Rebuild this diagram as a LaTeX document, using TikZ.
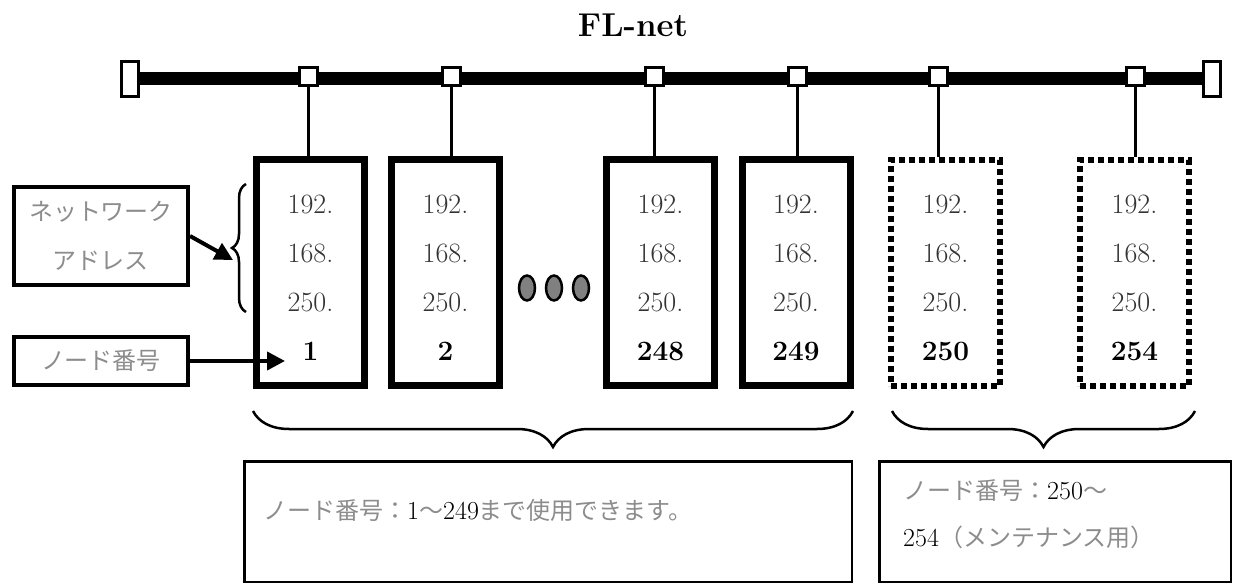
\documentclass[tikz,border=0pt]{standalone}
\usepackage{fontspec}
\newfontfamily\jp{Noto Sans CJK JP}
\usetikzlibrary{arrows.meta,decorations.pathreplacing,shapes.geometric}
\newcommand\numtxt[1]{{\rmfamily\fontsize{26}{26}\selectfont\color{black}#1}}
\begin{document}
\begin{tikzpicture}[x=1pt,y=-1pt,
 bus/.style={line width=13pt},
 term/.style={draw,fill=white,line width=3pt,minimum width=17pt,minimum height=35pt,inner sep=0pt},
 tap/.style={draw,fill=white,line width=3pt,minimum width=18pt,minimum height=18pt,inner sep=0pt},
 drop/.style={line width=3pt},
 hostbox/.style={draw,line width=7pt,minimum width=108pt,minimum height=226pt,inner sep=0pt},
 spare/.style={draw,line width=6pt,dash pattern=on 6pt off 4pt,minimum width=109pt,minimum height=226pt,inner sep=0pt},
 ip/.style={anchor=base,font=\fontsize{28}{30}\selectfont,text=black!80,inner sep=0pt},
 nid/.style={anchor=base,font=\fontsize{28}{30}\selectfont\bfseries,inner sep=0pt},
 more/.style={ellipse,draw,line width=2.5pt,fill=black!50,minimum width=16pt,minimum height=25pt,inner sep=0pt},
 label/.style={draw,line width=4pt,minimum width=174pt,inner sep=0pt,align=center,text=black!45},
 note/.style={draw,line width=2.5pt,inner sep=0pt},
 jtext/.style={anchor=base west,inner sep=0pt,font=\jp\fontsize{24}{26}\selectfont,text=black!45},
 pointer/.style={line width=4pt,-{Triangle[length=18pt,width=18pt]}},
 brc/.style={decorate,line width=2.5pt},
]
\useasboundingbox (0,0) rectangle (1235,585);

% title
\node[font=\fontsize{33}{36}\selectfont\bfseries,anchor=base,inner sep=0pt] (title) at (633,37) {FL-net};

% bus
\node[term] (tl) at (130,79) {};
\node[term] (tr) at (1211.5,79) {};
\draw[bus] (tl.east) -- (tr.west);

% taps
\node[tap] (t1) at (308,77) {};
\node[tap] (t2) at (451,77) {};
\node[tap] (t3) at (654,77) {};
\node[tap] (t4) at (797,77) {};
\node[tap] (t5) at (938,77) {};
\node[tap] (t6) at (1135,77) {};

% host boxes
\node[hostbox] (h1) at (310.5,272.5) {};
\node[hostbox] (h2) at (445.5,272.5) {};
\node[hostbox] (h3) at (660.5,272.5) {};
\node[hostbox] (h4) at (796,272.5) {};
\node[spare] (h5) at (945.5,273) {};
\node[spare] (h6) at (1134.5,273) {};

\foreach \t/\h in {t1/h1,t2/h2,t3/h3,t4/h4,t5/h5,t6/h6}
  \draw[drop] (\t.south) -- (\t.south |- \h.north);

% addresses
\foreach \h/\x/\n in {h1/310.5/1,h2/445.5/2,h3/660.5/248,h4/796/249,h5/945.5/250,h6/1134.5/254}{
  \node[ip] (\h a) at (\x,214) {192.};
  \node[ip] (\h b) at (\x,263) {168.};
  \node[ip] (\h c) at (\x,312) {250.};
  \node[nid] (\h d) at (\x,361) {\n};
}

% ellipsis
\node[more] (m1) at (527,288) {};
\node[more] (m2) at (554,288) {};
\node[more] (m3) at (581,288) {};

% left labels
\node[label,minimum height=98pt,font=\jp\fontsize{24}{49}\selectfont] (na) at (101,236) {ネットワーク\\アドレス};
\node[label,minimum height=48pt,font=\jp\fontsize{24}{26}\selectfont] (nn) at (101,361) {ノード番号};

\coordinate (lb1) at (246,312);
\coordinate (lb2) at (246,184);
\draw[brc,decoration={brace,amplitude=14pt}] (lb1) -- (lb2);
\coordinate (natip) at (233,260);
\draw[pointer] (na.east) -- (natip);
\coordinate (nntip) at (285,361);
\draw[pointer] (nn.east) -- (nntip);

% bottom braces
\coordinate (bb1) at (853,411);
\coordinate (bb2) at (253,411);
\coordinate (bb3) at (1195,411);
\coordinate (bb4) at (892,411);
\draw[brc,decoration={brace,amplitude=36pt}] (bb1) -- (bb2);
\draw[brc,decoration={brace,amplitude=36pt}] (bb3) -- (bb4);

% bottom notes
\node[note,minimum width=607.5pt,minimum height=120.5pt] (nl) at (548,521.5) {};
\node[note,minimum width=351.5pt,minimum height=120.5pt] (nr) at (1055,521.5) {};
\node[jtext] (nlt) at (263,519) {ノード番号：\numtxt{1}～\numtxt{249}まで使用できます。};
\node[jtext] (nrt1) at (903,499) {ノード番号：\numtxt{250}～};
\node[jtext] (nrt2) at (903,546) {\numtxt{254}（メンテナンス用）};
\end{tikzpicture}
\end{document}
